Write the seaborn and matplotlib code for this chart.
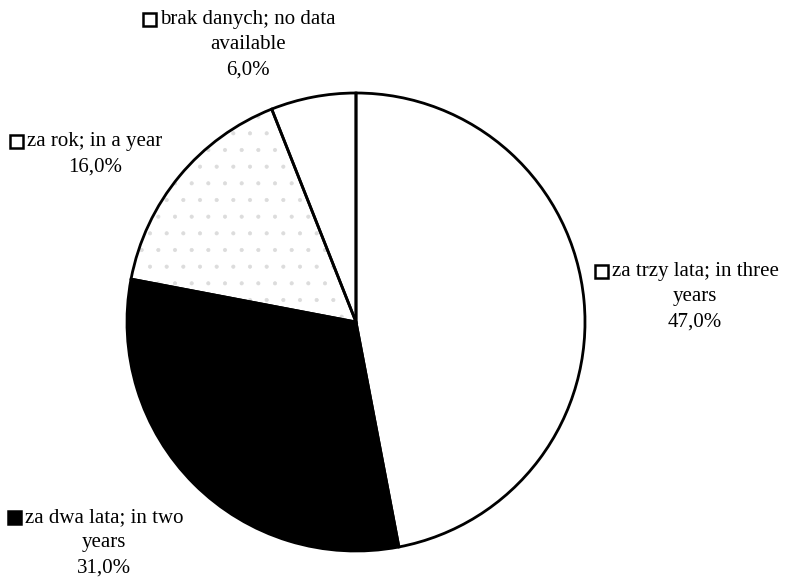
import matplotlib
matplotlib.use("Agg")
import matplotlib.pyplot as plt
from matplotlib.patches import Rectangle
import seaborn as sns

categories = ["za trzy lata; in three\nyears", "za dwa lata; in two\nyears", "za rok; in a year", "brak danych; no data\navailable"]
values = [47.0, 31.0, 16.0, 6.0]
fills = ["white", "black", "white", "white"]
key_fills = ["white", "black", "white", "white"]
hatches = [None, None, ".", None]
# label centre x and top y in pixels
label_pos = [(695, 262), (104, 508), (95, 132), (248, 10)]

sns.set_theme(style="white")
plt.rcParams["font.family"] = ["Liberation Serif", "DejaVu Sans"]
plt.rcParams["hatch.linewidth"] = 0.5

W, H = 786, 578
fig = plt.figure(figsize=(W / 100, H / 100), dpi=100)
cx, cy, R = 356, 322, 229
side = R * 2.2
ax = fig.add_axes([(cx - side / 2) / W, ((H - cy) - side / 2) / H, side / W, side / H])

# fill layer (hatch takes the edge colour; edges have zero width)
wedges, _ = ax.pie(values, colors=fills, startangle=90, counterclock=False,
                   wedgeprops=dict(edgecolor="#dcdcdc", linewidth=0))
for w, h in zip(wedges, hatches):
    if h:
        w.set_hatch(h)
# outline layer
ax.pie(values, colors=["none"] * len(values), startangle=90, counterclock=False,
       wedgeprops=dict(edgecolor="black", linewidth=2.0, fill=False))
ax.set_xlim(-1.1, 1.1)
ax.set_ylim(-1.1, 1.1)
ax.set_aspect("equal")
ax.axis("off")

renderer = fig.canvas.get_renderer()
fs = 15
for cat, val, kf, (px, py) in zip(categories, values, key_fills, label_pos):
    lines = cat.split("\n")
    first = lines[0]
    text = "\n".join(lines) + "\n" + f"{val:.1f}%".replace(".", ",")
    fig.text(px / W, 1 - py / H, text, ha="center", va="top",
             fontsize=fs, linespacing=1.45, color="black")
    # width of the first line to place the key box on its left
    tmp = fig.text(px / W, 1 - py / H, first, ha="center", va="top",
                   fontsize=fs, color="black")
    bb = tmp.get_window_extent(renderer)
    tmp.remove()
    box = 13
    bx = bb.x0 - 4 - box
    by = H - py - 3 - box
    fig.add_artist(Rectangle((bx / W, by / H), box / W, box / H,
                             transform=fig.transFigure, facecolor=kf,
                             edgecolor="black", linewidth=1.8))

fig.savefig("out.png", dpi=100, facecolor="white")
